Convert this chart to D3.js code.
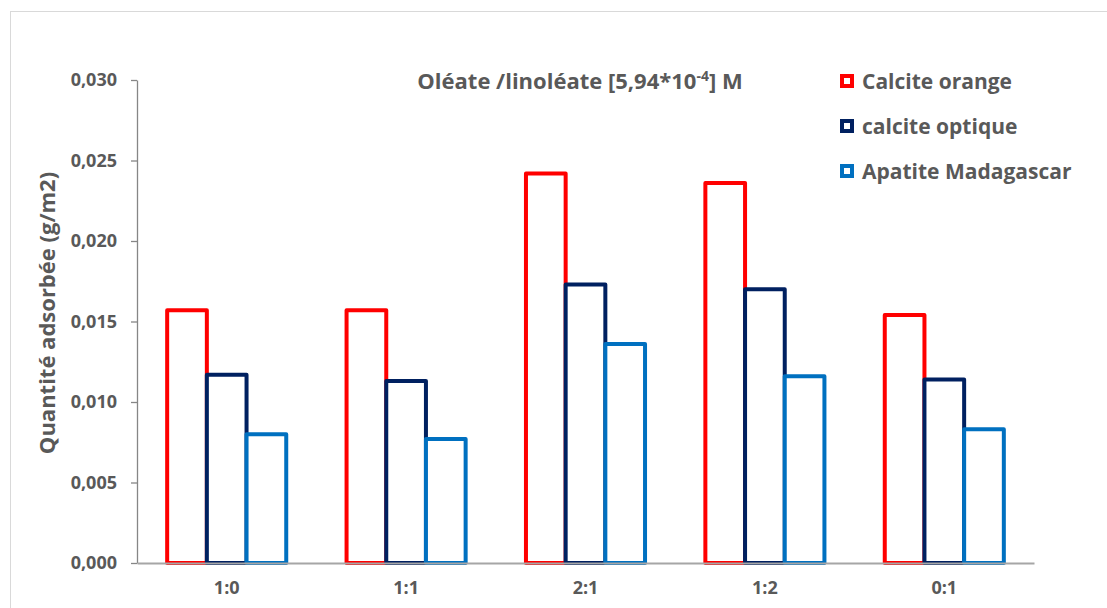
<!DOCTYPE html>
<html><head><meta charset="utf-8">
<script src="https://cdn.jsdelivr.net/npm/d3@7"></script>
<style>body{margin:0;background:#fff}svg{display:block}text{font-family:"Open Sans",Lato,sans-serif;font-weight:700;fill:#595959}</style>
</head><body>
<svg id="c" width="1107" height="608"></svg>
<script>
const categories = ["1:0","1:1","2:1","1:2","0:1"];
const seriesNames = ["Calcite orange","calcite optique","Apatite Madagascar"];
const calciteOrange = [0.0157,0.0157,0.0242,0.0236,0.0154];
const calciteOptique = [0.0117,0.0113,0.0173,0.0170,0.0114];
const apatiteMadagascar = [0.0080,0.0077,0.0136,0.0116,0.0083];
const yTicks = [0,0.005,0.010,0.015,0.020,0.025,0.030];
const colors = ["#FF0000","#002060","#0070C0"];
const series = [calciteOrange, calciteOptique, apatiteMadagascar];

const svg = d3.select("#c");
svg.append("rect").attr("x",10.5).attr("y",11.5).attr("width",1200).attr("height",700)
  .attr("fill","none").attr("stroke","#d9d9d9");

const pL=137, pR=1034, pT=80, pB=563;
const y = d3.scaleLinear().domain([0,0.030]).range([pB,pT]);
const x = d3.scaleBand().domain(categories).range([pL,pR]).paddingInner(0).paddingOuter(0);
const inner = d3.scaleBand().domain(d3.range(3)).range([0,x.bandwidth()]).paddingOuter(0.76).paddingInner(0);
const fmt = v => d3.format(".3f")(v).replace(".",",");

const ya = svg.append("g").attr("transform",`translate(${pL},0)`)
  .call(d3.axisLeft(y).tickValues(yTicks).tickFormat(fmt).tickSize(6).tickSizeOuter(0).tickPadding(14));
ya.select(".domain").attr("stroke","#868686").attr("stroke-width",1.3);
ya.selectAll(".tick line").attr("stroke","#868686").attr("stroke-width",1.3);
ya.selectAll(".tick text").style("font-size","18px").attr("fill","#595959").attr("font-family",null);

series.forEach((vals,si)=>{
  svg.append("g").selectAll("rect").data(vals).join("rect")
    .attr("x",(d,i)=>x(categories[i])+inner(si))
    .attr("width",inner.bandwidth())
    .attr("y",d=>y(d))
    .attr("height",d=>y(0)-y(d))
    .attr("fill","#fff").attr("stroke",colors[si]).attr("stroke-width",4)
    .attr("stroke-linejoin","round");
});

const xa = svg.append("g").attr("transform",`translate(0,${pB})`)
  .call(d3.axisBottom(x).tickSize(0).tickPadding(18));
xa.select(".domain").attr("stroke","#a6a6a6").attr("stroke-width",2);
xa.selectAll(".tick text").style("font-size","18px").attr("fill","#595959").attr("font-family",null);

svg.append("text").attr("transform","translate(55,313) rotate(-90)").attr("text-anchor","middle")
  .style("font-size","22px").text("Quantité adsorbée (g/m2)");

const t = svg.append("text").attr("x",580).attr("y",89).attr("text-anchor","middle").style("font-size","22px");
t.append("tspan").text("Oléate /linoléate [5,94*10");
t.append("tspan").attr("dy",-8).style("font-size","14px").text("-4");
t.append("tspan").attr("dy",8).text("] M");

const lg = svg.append("g");
seriesNames.forEach((n,i)=>{
  const ly = 81 + i*45;
  lg.append("rect").attr("x",842).attr("y",ly-5).attr("width",10).attr("height",10)
    .attr("fill","#fff").attr("stroke",colors[i]).attr("stroke-width",4);
  lg.append("text").attr("x",862).attr("y",ly+8).style("font-size","21px").text(n);
});
</script>
</body></html>
